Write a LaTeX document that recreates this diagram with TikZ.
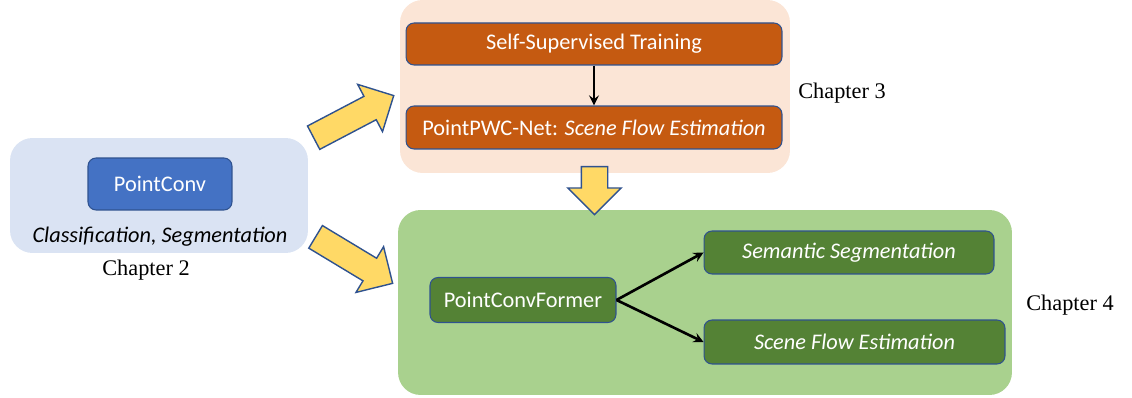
\documentclass[tikz,border=0pt]{standalone}
\usepackage{fontspec}
\setmainfont{Carlito}
\newfontfamily\chapfont{Liberation Serif}
\usepackage{tikz}
\usetikzlibrary{shapes.arrows, arrows, positioning}
\definecolor{myblue}{HTML}{4472C4}
\definecolor{mylightblue}{HTML}{DAE3F3}
\definecolor{myorange}{HTML}{C55A11}
\definecolor{mypeach}{HTML}{FBE5D6}
\definecolor{mygreen}{HTML}{548235}
\definecolor{mylightgreen}{HTML}{A9D18E}
\definecolor{myyellow}{HTML}{FFD966}
\definecolor{myedge}{HTML}{2F528F}
\tikzstyle{panel} = [rectangle, rounded corners=0.45cm, inner sep=0pt]
\tikzstyle{block} = [rectangle, rounded corners=0.16cm, draw=myedge, line width=0.6pt, text=white, inner sep=0pt]
\tikzstyle{bigarrow} = [single arrow, draw=myedge, fill=myyellow, line width=0.8pt, inner xsep=0pt, inner ysep=0.25cm, single arrow head extend=0.27cm, anchor=tail]
\tikzstyle{chapter} = [font=\chapfont\fontsize{12.7}{15}\selectfont]
\tikzstyle{arrow} = [line width=1.5pt,->,>=stealth]

\begin{document}
\begin{tikzpicture}[x=0.02cm, y=-0.02cm, font=\fontsize{12.7}{15}\selectfont]
    \useasboundingbox (0,0) rectangle (1132,398);

    % panels
    \node (left) [panel, fill=mylightblue, minimum width=5.96cm, minimum height=2.30cm] at (159,195.5) {};
    \node (top) [panel, fill=mypeach, minimum width=7.8cm, minimum height=3.46cm] at (595,86.5) {};
    \node (bottom) [panel, fill=mylightgreen, minimum width=12.28cm, minimum height=3.7cm] at (705,302.5) {};

    % chapter 2
    \node (pconv) [block, fill=myblue, minimum width=2.88cm, minimum height=1.04cm] at (160,184) {PointConv};
    \node (cls) at (160,237) {\itshape Classification, Segmentation};
    \node (ch2) [chapter] at (146,270) {Chapter 2};

    % chapter 3
    \node (selfsup) [block, fill=myorange, minimum width=7.52cm, minimum height=0.84cm] at (594,44) {Self-Supervised Training};
    \node (pwc) [block, fill=myorange, minimum width=7.52cm, minimum height=0.86cm] at (594,127.5) {PointPWC-Net: \textit{Scene Flow Estimation}};
    \node (ch3) [chapter] at (842,93) {Chapter 3};

    % chapter 4
    \node (former) [block, fill=mygreen, minimum width=3.72cm, minimum height=0.9cm] at (523,300) {PointConvFormer};
    \node (semseg) [block, fill=mygreen, minimum width=5.8cm, minimum height=0.86cm] at (849,252.5) {\itshape Semantic Segmentation};
    \node (flow) [block, fill=mygreen, minimum width=6.02cm, minimum height=0.88cm] at (854.5,342) {\itshape Scene Flow Estimation};
    \node (ch4) [chapter] at (1070,305) {Chapter 4};

    % big arrows
    \node (upArrow) [bigarrow, minimum height=1.81cm, rotate=27.7] at (313,138) {};
    \node (downArrow) [bigarrow, minimum height=1.80cm, rotate=-31.1] at (315,236.5) {};
    \node (midArrow) [bigarrow, minimum height=0.96cm, rotate=-90] at (594.5,166) {};

    \draw [arrow] (selfsup) -- (pwc);
    \draw [arrow] (former.east) -- (semseg.west);
    \draw [arrow] (former.east) -- (flow.west);
\end{tikzpicture}
\end{document}
